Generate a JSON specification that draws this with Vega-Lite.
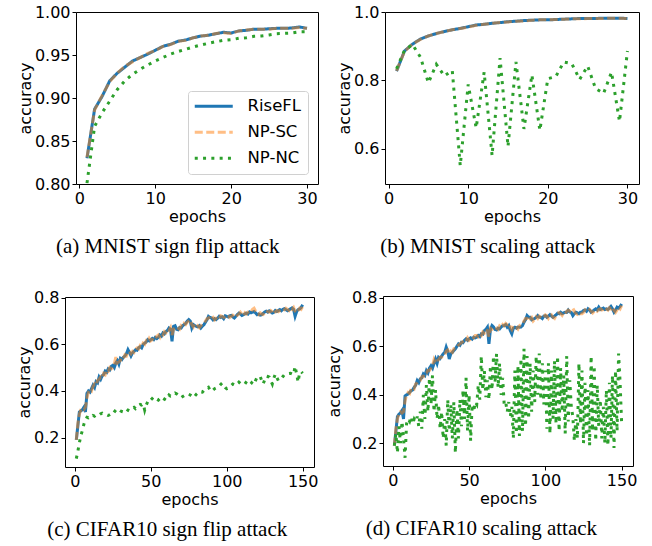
{
"$schema": "https://vega.github.io/schema/vega-lite/v6.json",
"padding": {"left": 9, "top": 3, "right": 0, "bottom": 0},
"background": "white",
"datasets": {
"a": [
{"e":1,"r":0.830,"p":0.831,"n":0.801},{"e":2,"r":0.887,"p":0.886,"n":0.867},{"e":3,"r":0.902,"p":0.903,"n":0.883},{"e":4,"r":0.920,"p":0.919,"n":0.8965},{"e":5,"r":0.929,"p":0.929,"n":0.910},{"e":6,"r":0.936,"p":0.937,"n":0.920},{"e":7,"r":0.943,"p":0.942,"n":0.9275},{"e":8,"r":0.947,"p":0.947,"n":0.9333},{"e":9,"r":0.951,"p":0.952,"n":0.9384},{"e":10,"r":0.9555,"p":0.955,"n":0.943},
{"e":11,"r":0.960,"p":0.960,"n":0.947},{"e":12,"r":0.9624,"p":0.962,"n":0.951},{"e":13,"r":0.966,"p":0.966,"n":0.954},{"e":14,"r":0.9674,"p":0.967,"n":0.9566},{"e":15,"r":0.970,"p":0.970,"n":0.9593},{"e":16,"r":0.972,"p":0.972,"n":0.9616},{"e":17,"r":0.973,"p":0.973,"n":0.9636},{"e":18,"r":0.9748,"p":0.975,"n":0.9655},{"e":19,"r":0.9764,"p":0.976,"n":0.967},{"e":20,"r":0.9756,"p":0.975,"n":0.9678},
{"e":21,"r":0.978,"p":0.978,"n":0.9694},{"e":22,"r":0.9787,"p":0.979,"n":0.970},{"e":23,"r":0.980,"p":0.980,"n":0.9717},{"e":24,"r":0.9798,"p":0.980,"n":0.9721},{"e":25,"r":0.9805,"p":0.980,"n":0.9733},{"e":26,"r":0.981,"p":0.981,"n":0.9748},{"e":27,"r":0.981,"p":0.981,"n":0.9752},{"e":28,"r":0.9814,"p":0.981,"n":0.9756},{"e":29,"r":0.9826,"p":0.982,"n":0.977},{"e":30,"r":0.981,"p":0.981,"n":0.977}
],
"b": [
{"e":1,"r":0.827,"p":0.828,"n":0.834},{"e":2,"r":0.886,"p":0.885,"n":0.888},{"e":3,"r":0.906,"p":0.906,"n":0.905},{"e":4,"r":0.921,"p":0.920,"n":0.868},{"e":5,"r":0.930,"p":0.930,"n":0.793},{"e":6,"r":0.937,"p":0.937,"n":0.847},{"e":7,"r":0.943,"p":0.943,"n":0.813},{"e":8,"r":0.948,"p":0.948,"n":0.829},{"e":9,"r":0.952,"p":0.952,"n":0.551},{"e":10,"r":0.957,"p":0.956,"n":0.788},
{"e":11,"r":0.962,"p":0.961,"n":0.661},{"e":12,"r":0.964,"p":0.964,"n":0.824},{"e":13,"r":0.967,"p":0.967,"n":0.580},{"e":14,"r":0.969,"p":0.969,"n":0.865},{"e":15,"r":0.9716,"p":0.971,"n":0.607},{"e":16,"r":0.973,"p":0.973,"n":0.854},{"e":17,"r":0.975,"p":0.974,"n":0.658},{"e":18,"r":0.976,"p":0.976,"n":0.816},{"e":19,"r":0.977,"p":0.977,"n":0.654},{"e":20,"r":0.977,"p":0.977,"n":0.805},
{"e":21,"r":0.978,"p":0.978,"n":0.811},{"e":22,"r":0.979,"p":0.979,"n":0.854},{"e":23,"r":0.980,"p":0.980,"n":0.849},{"e":24,"r":0.981,"p":0.980,"n":0.803},{"e":25,"r":0.981,"p":0.981,"n":0.842},{"e":26,"r":0.981,"p":0.981,"n":0.776},{"e":27,"r":0.982,"p":0.981,"n":0.762},{"e":28,"r":0.982,"p":0.982,"n":0.824},{"e":29,"r":0.982,"p":0.982,"n":0.680},{"e":30,"r":0.981,"p":0.981,"n":0.886}
],
"c": [
{"e":1,"r":0.19,"p":0.19,"n":0.11},{"e":2,"r":0.25,"p":0.26,"n":0.141},{"e":3,"r":0.31,"p":0.30,"n":0.177},{"e":4,"r":0.315,"p":0.32,"n":0.21},{"e":5,"r":0.32,"p":0.325,"n":0.23},{"e":6,"r":0.33,"p":0.32,"n":0.258},{"e":7,"r":0.31,"p":0.33,"n":0.275},{"e":8,"r":0.39,"p":0.37,"n":0.287},{"e":9,"r":0.40,"p":0.395,"n":0.285},{"e":10,"r":0.395,"p":0.405,"n":0.29},
{"e":11,"r":0.41,"p":0.40,"n":0.288},{"e":12,"r":0.425,"p":0.42,"n":0.295},{"e":13,"r":0.415,"p":0.43,"n":0.292},{"e":14,"r":0.44,"p":0.425,"n":0.298},{"e":15,"r":0.435,"p":0.445,"n":0.30},{"e":16,"r":0.46,"p":0.45,"n":0.297},{"e":17,"r":0.45,"p":0.46,"n":0.302},{"e":18,"r":0.465,"p":0.455,"n":0.305},{"e":19,"r":0.47,"p":0.475,"n":0.30},{"e":20,"r":0.485,"p":0.47,"n":0.30},
{"e":21,"r":0.48,"p":0.49,"n":0.298},{"e":22,"r":0.495,"p":0.485,"n":0.295},{"e":23,"r":0.49,"p":0.50,"n":0.298},{"e":24,"r":0.505,"p":0.495,"n":0.302},{"e":25,"r":0.51,"p":0.50,"n":0.30},{"e":26,"r":0.50,"p":0.515,"n":0.31},{"e":27,"r":0.52,"p":0.545,"n":0.318},{"e":28,"r":0.53,"p":0.52,"n":0.324},{"e":29,"r":0.515,"p":0.525,"n":0.32},{"e":30,"r":0.54,"p":0.53,"n":0.315},
{"e":31,"r":0.535,"p":0.545,"n":0.312},{"e":32,"r":0.545,"p":0.54,"n":0.31},{"e":33,"r":0.55,"p":0.555,"n":0.305},{"e":34,"r":0.56,"p":0.55,"n":0.31},{"e":35,"r":0.577,"p":0.565,"n":0.318},{"e":36,"r":0.565,"p":0.57,"n":0.315},{"e":37,"r":0.55,"p":0.56,"n":0.322},{"e":38,"r":0.563,"p":0.57,"n":0.327},{"e":39,"r":0.57,"p":0.565,"n":0.33},{"e":40,"r":0.577,"p":0.58,"n":0.324},
{"e":41,"r":0.575,"p":0.585,"n":0.33},{"e":42,"r":0.585,"p":0.58,"n":0.338},{"e":43,"r":0.59,"p":0.595,"n":0.342},{"e":44,"r":0.585,"p":0.59,"n":0.34},{"e":45,"r":0.60,"p":0.605,"n":0.345},{"e":46,"r":0.605,"p":0.60,"n":0.318},{"e":47,"r":0.61,"p":0.615,"n":0.34},{"e":48,"r":0.62,"p":0.61,"n":0.354},{"e":49,"r":0.615,"p":0.625,"n":0.35},{"e":50,"r":0.62,"p":0.615,"n":0.361},
{"e":51,"r":0.625,"p":0.62,"n":0.368},{"e":52,"r":0.62,"p":0.63,"n":0.375},{"e":53,"r":0.63,"p":0.625,"n":0.37},{"e":54,"r":0.625,"p":0.635,"n":0.365},{"e":55,"r":0.63,"p":0.64,"n":0.361},{"e":56,"r":0.64,"p":0.63,"n":0.368},{"e":57,"r":0.635,"p":0.645,"n":0.375},{"e":58,"r":0.649,"p":0.64,"n":0.37},{"e":59,"r":0.645,"p":0.655,"n":0.365},{"e":60,"r":0.655,"p":0.65,"n":0.361},
{"e":61,"r":0.66,"p":0.665,"n":0.372},{"e":62,"r":0.67,"p":0.66,"n":0.383},{"e":63,"r":0.665,"p":0.672,"n":0.378},{"e":64,"r":0.613,"p":0.64,"n":0.38},{"e":65,"r":0.677,"p":0.665,"n":0.385},{"e":66,"r":0.68,"p":0.67,"n":0.391},{"e":67,"r":0.665,"p":0.675,"n":0.388},{"e":68,"r":0.663,"p":0.67,"n":0.383},{"e":69,"r":0.672,"p":0.665,"n":0.377},{"e":70,"r":0.67,"p":0.68,"n":0.371},
{"e":71,"r":0.68,"p":0.675,"n":0.376},{"e":72,"r":0.685,"p":0.69,"n":0.38},{"e":73,"r":0.69,"p":0.685,"n":0.385},{"e":74,"r":0.70,"p":0.695,"n":0.383},{"e":75,"r":0.706,"p":0.70,"n":0.386},{"e":76,"r":0.70,"p":0.705,"n":0.383},{"e":77,"r":0.67,"p":0.685,"n":0.378},{"e":78,"r":0.685,"p":0.675,"n":0.371},{"e":79,"r":0.68,"p":0.69,"n":0.378},{"e":80,"r":0.677,"p":0.685,"n":0.386},
{"e":81,"r":0.675,"p":0.68,"n":0.392},{"e":82,"r":0.68,"p":0.672,"n":0.398},{"e":83,"r":0.67,"p":0.68,"n":0.396},{"e":84,"r":0.678,"p":0.688,"n":0.395},{"e":85,"r":0.684,"p":0.69,"n":0.402},{"e":86,"r":0.695,"p":0.70,"n":0.409},{"e":87,"r":0.705,"p":0.71,"n":0.412},{"e":88,"r":0.72,"p":0.712,"n":0.416},{"e":89,"r":0.715,"p":0.72,"n":0.405},{"e":90,"r":0.713,"p":0.71,"n":0.398},
{"e":91,"r":0.705,"p":0.715,"n":0.404},{"e":92,"r":0.71,"p":0.705,"n":0.41},{"e":93,"r":0.706,"p":0.712,"n":0.413},{"e":94,"r":0.712,"p":0.718,"n":0.418},{"e":95,"r":0.72,"p":0.71,"n":0.42},{"e":96,"r":0.715,"p":0.722,"n":0.428},{"e":97,"r":0.718,"p":0.72,"n":0.434},{"e":98,"r":0.71,"p":0.715,"n":0.425},{"e":99,"r":0.722,"p":0.718,"n":0.415},{"e":100,"r":0.72,"p":0.725,"n":0.41},
{"e":101,"r":0.717,"p":0.722,"n":0.413},{"e":102,"r":0.722,"p":0.715,"n":0.416},{"e":103,"r":0.724,"p":0.72,"n":0.424},{"e":104,"r":0.718,"p":0.725,"n":0.43},{"e":105,"r":0.713,"p":0.72,"n":0.427},{"e":106,"r":0.72,"p":0.715,"n":0.424},{"e":107,"r":0.728,"p":0.725,"n":0.431},{"e":108,"r":0.734,"p":0.73,"n":0.438},{"e":109,"r":0.73,"p":0.738,"n":0.432},{"e":110,"r":0.724,"p":0.73,"n":0.427},
{"e":111,"r":0.727,"p":0.722,"n":0.428},{"e":112,"r":0.731,"p":0.735,"n":0.43},{"e":113,"r":0.734,"p":0.73,"n":0.44},{"e":114,"r":0.73,"p":0.738,"n":0.448},{"e":115,"r":0.739,"p":0.745,"n":0.443},{"e":116,"r":0.735,"p":0.74,"n":0.438},{"e":117,"r":0.738,"p":0.75,"n":0.432},{"e":118,"r":0.741,"p":0.755,"n":0.427},{"e":119,"r":0.735,"p":0.742,"n":0.445},{"e":120,"r":0.727,"p":0.735,"n":0.459},
{"e":121,"r":0.73,"p":0.728,"n":0.462},{"e":122,"r":0.725,"p":0.735,"n":0.463},{"e":123,"r":0.727,"p":0.73,"n":0.445},{"e":124,"r":0.733,"p":0.728,"n":0.43},{"e":125,"r":0.739,"p":0.735,"n":0.448},{"e":126,"r":0.742,"p":0.745,"n":0.464},{"e":127,"r":0.738,"p":0.74,"n":0.462},{"e":128,"r":0.744,"p":0.738,"n":0.459},{"e":129,"r":0.74,"p":0.745,"n":0.444},{"e":130,"r":0.734,"p":0.74,"n":0.43},
{"e":131,"r":0.737,"p":0.73,"n":0.455},{"e":132,"r":0.745,"p":0.74,"n":0.473},{"e":133,"r":0.741,"p":0.745,"n":0.458},{"e":134,"r":0.745,"p":0.74,"n":0.444},{"e":135,"r":0.749,"p":0.745,"n":0.448},{"e":136,"r":0.744,"p":0.75,"n":0.453},{"e":137,"r":0.75,"p":0.745,"n":0.462},{"e":138,"r":0.753,"p":0.748,"n":0.47},{"e":139,"r":0.748,"p":0.755,"n":0.472},{"e":140,"r":0.744,"p":0.75,"n":0.473},
{"e":141,"r":0.748,"p":0.745,"n":0.475},{"e":142,"r":0.752,"p":0.755,"n":0.476},{"e":143,"r":0.756,"p":0.75,"n":0.473},{"e":144,"r":0.75,"p":0.758,"n":0.47},{"e":145,"r":0.72,"p":0.742,"n":0.506},{"e":146,"r":0.74,"p":0.735,"n":0.473},{"e":147,"r":0.749,"p":0.745,"n":0.438},{"e":148,"r":0.752,"p":0.755,"n":0.48},{"e":149,"r":0.758,"p":0.75,"n":0.483},{"e":150,"r":0.77,"p":0.762,"n":0.476}
],
"d": [
{"e":1,"r":0.19,"p":0.19,"n":0.19},{"e":2,"r":0.25,"p":0.26,"n":0.24},{"e":3,"r":0.31,"p":0.30,"n":0.16},{"e":4,"r":0.32,"p":0.32,"n":0.27},{"e":5,"r":0.325,"p":0.33,"n":0.20},{"e":6,"r":0.335,"p":0.325,"n":0.29},{"e":7,"r":0.30,"p":0.33,"n":0.22},{"e":8,"r":0.395,"p":0.375,"n":0.14},{"e":9,"r":0.40,"p":0.40,"n":0.28},{"e":10,"r":0.403,"p":0.41,"n":0.30},
{"e":11,"r":0.41,"p":0.405,"n":0.29},{"e":12,"r":0.417,"p":0.425,"n":0.31},{"e":13,"r":0.42,"p":0.43,"n":0.28},{"e":14,"r":0.431,"p":0.425,"n":0.30},{"e":15,"r":0.44,"p":0.445,"n":0.29},{"e":16,"r":0.459,"p":0.45,"n":0.31},{"e":17,"r":0.45,"p":0.46,"n":0.27},{"e":18,"r":0.466,"p":0.46,"n":0.33},{"e":19,"r":0.47,"p":0.475,"n":0.26},{"e":20,"r":0.486,"p":0.475,"n":0.40},
{"e":21,"r":0.48,"p":0.49,"n":0.30},{"e":22,"r":0.50,"p":0.49,"n":0.44},{"e":23,"r":0.49,"p":0.50,"n":0.33},{"e":24,"r":0.51,"p":0.50,"n":0.47},{"e":25,"r":0.52,"p":0.51,"n":0.36},{"e":26,"r":0.51,"p":0.52,"n":0.48},{"e":27,"r":0.53,"p":0.545,"n":0.33},{"e":28,"r":0.548,"p":0.53,"n":0.42},{"e":29,"r":0.53,"p":0.54,"n":0.30},{"e":30,"r":0.555,"p":0.545,"n":0.36},
{"e":31,"r":0.55,"p":0.555,"n":0.26},{"e":32,"r":0.56,"p":0.555,"n":0.33},{"e":33,"r":0.569,"p":0.565,"n":0.22},{"e":34,"r":0.575,"p":0.565,"n":0.30},{"e":35,"r":0.597,"p":0.58,"n":0.19},{"e":36,"r":0.58,"p":0.585,"n":0.38},{"e":37,"r":0.548,"p":0.57,"n":0.25},{"e":38,"r":0.57,"p":0.58,"n":0.36},{"e":39,"r":0.575,"p":0.575,"n":0.22},{"e":40,"r":0.583,"p":0.59,"n":0.37},
{"e":41,"r":0.59,"p":0.595,"n":0.16},{"e":42,"r":0.60,"p":0.595,"n":0.34},{"e":43,"r":0.61,"p":0.605,"n":0.22},{"e":44,"r":0.605,"p":0.61,"n":0.38},{"e":45,"r":0.617,"p":0.615,"n":0.27},{"e":46,"r":0.615,"p":0.62,"n":0.42},{"e":47,"r":0.625,"p":0.625,"n":0.30},{"e":48,"r":0.631,"p":0.62,"n":0.47},{"e":49,"r":0.625,"p":0.635,"n":0.25},{"e":50,"r":0.631,"p":0.625,"n":0.40},
{"e":51,"r":0.635,"p":0.63,"n":0.21},{"e":52,"r":0.63,"p":0.64,"n":0.36},{"e":53,"r":0.638,"p":0.635,"n":0.33},{"e":54,"r":0.635,"p":0.645,"n":0.37},{"e":55,"r":0.638,"p":0.645,"n":0.36},{"e":56,"r":0.645,"p":0.64,"n":0.44},{"e":57,"r":0.64,"p":0.65,"n":0.38},{"e":58,"r":0.652,"p":0.645,"n":0.56},{"e":59,"r":0.65,"p":0.66,"n":0.42},{"e":60,"r":0.665,"p":0.655,"n":0.50},
{"e":61,"r":0.67,"p":0.67,"n":0.39},{"e":62,"r":0.679,"p":0.665,"n":0.46},{"e":63,"r":0.61,"p":0.64,"n":0.38},{"e":64,"r":0.67,"p":0.675,"n":0.52},{"e":65,"r":0.686,"p":0.67,"n":0.42},{"e":66,"r":0.68,"p":0.675,"n":0.56},{"e":67,"r":0.67,"p":0.68,"n":0.45},{"e":68,"r":0.668,"p":0.675,"n":0.57},{"e":69,"r":0.675,"p":0.67,"n":0.43},{"e":70,"r":0.672,"p":0.685,"n":0.53},
{"e":71,"r":0.68,"p":0.68,"n":0.40},{"e":72,"r":0.685,"p":0.69,"n":0.47},{"e":73,"r":0.686,"p":0.685,"n":0.36},{"e":74,"r":0.69,"p":0.695,"n":0.37},{"e":75,"r":0.679,"p":0.69,"n":0.33},{"e":76,"r":0.686,"p":0.695,"n":0.37},{"e":77,"r":0.665,"p":0.68,"n":0.31},{"e":78,"r":0.652,"p":0.67,"n":0.35},{"e":79,"r":0.675,"p":0.685,"n":0.22},{"e":80,"r":0.679,"p":0.685,"n":0.50},
{"e":81,"r":0.675,"p":0.68,"n":0.24},{"e":82,"r":0.68,"p":0.672,"n":0.52},{"e":83,"r":0.679,"p":0.685,"n":0.23},{"e":84,"r":0.68,"p":0.69,"n":0.55},{"e":85,"r":0.686,"p":0.69,"n":0.25},{"e":86,"r":0.70,"p":0.705,"n":0.59},{"e":87,"r":0.71,"p":0.715,"n":0.27},{"e":88,"r":0.727,"p":0.715,"n":0.56},{"e":89,"r":0.72,"p":0.725,"n":0.30},{"e":90,"r":0.72,"p":0.715,"n":0.53},
{"e":91,"r":0.71,"p":0.72,"n":0.33},{"e":92,"r":0.713,"p":0.705,"n":0.50},{"e":93,"r":0.715,"p":0.712,"n":0.37},{"e":94,"r":0.72,"p":0.722,"n":0.56},{"e":95,"r":0.727,"p":0.715,"n":0.40},{"e":96,"r":0.72,"p":0.725,"n":0.57},{"e":97,"r":0.72,"p":0.72,"n":0.38},{"e":98,"r":0.715,"p":0.715,"n":0.53},{"e":99,"r":0.725,"p":0.72,"n":0.36},{"e":100,"r":0.727,"p":0.73,"n":0.50},
{"e":101,"r":0.72,"p":0.725,"n":0.26},{"e":102,"r":0.725,"p":0.715,"n":0.53},{"e":103,"r":0.731,"p":0.725,"n":0.24},{"e":104,"r":0.725,"p":0.73,"n":0.50},{"e":105,"r":0.72,"p":0.72,"n":0.30},{"e":106,"r":0.725,"p":0.715,"n":0.54},{"e":107,"r":0.73,"p":0.728,"n":0.28},{"e":108,"r":0.737,"p":0.735,"n":0.56},{"e":109,"r":0.735,"p":0.74,"n":0.25},{"e":110,"r":0.741,"p":0.735,"n":0.51},
{"e":111,"r":0.735,"p":0.728,"n":0.33},{"e":112,"r":0.738,"p":0.74,"n":0.48},{"e":113,"r":0.741,"p":0.735,"n":0.24},{"e":114,"r":0.74,"p":0.745,"n":0.56},{"e":115,"r":0.75,"p":0.75,"n":0.29},{"e":116,"r":0.742,"p":0.745,"n":0.46},{"e":117,"r":0.74,"p":0.755,"n":0.35},{"e":118,"r":0.727,"p":0.758,"n":0.31},{"e":119,"r":0.735,"p":0.745,"n":0.21},{"e":120,"r":0.741,"p":0.735,"n":0.30},
{"e":121,"r":0.738,"p":0.732,"n":0.22},{"e":122,"r":0.735,"p":0.74,"n":0.53},{"e":123,"r":0.741,"p":0.735,"n":0.28},{"e":124,"r":0.742,"p":0.735,"n":0.50},{"e":125,"r":0.748,"p":0.74,"n":0.20},{"e":126,"r":0.75,"p":0.75,"n":0.45},{"e":127,"r":0.745,"p":0.745,"n":0.23},{"e":128,"r":0.755,"p":0.745,"n":0.42},{"e":129,"r":0.75,"p":0.752,"n":0.19},{"e":130,"r":0.741,"p":0.745,"n":0.56},
{"e":131,"r":0.745,"p":0.738,"n":0.25},{"e":132,"r":0.75,"p":0.745,"n":0.52},{"e":133,"r":0.755,"p":0.75,"n":0.21},{"e":134,"r":0.75,"p":0.745,"n":0.44},{"e":135,"r":0.762,"p":0.752,"n":0.27},{"e":136,"r":0.752,"p":0.755,"n":0.38},{"e":137,"r":0.755,"p":0.75,"n":0.22},{"e":138,"r":0.758,"p":0.752,"n":0.35},{"e":139,"r":0.752,"p":0.76,"n":0.20},{"e":140,"r":0.755,"p":0.755,"n":0.42},
{"e":141,"r":0.752,"p":0.75,"n":0.19},{"e":142,"r":0.758,"p":0.76,"n":0.45},{"e":143,"r":0.765,"p":0.755,"n":0.22},{"e":144,"r":0.755,"p":0.762,"n":0.48},{"e":145,"r":0.741,"p":0.748,"n":0.18},{"e":146,"r":0.75,"p":0.74,"n":0.50},{"e":147,"r":0.762,"p":0.75,"n":0.25},{"e":148,"r":0.758,"p":0.762,"n":0.57},{"e":149,"r":0.765,"p":0.755,"n":0.45},{"e":150,"r":0.775,"p":0.768,"n":0.28}
]
},
"columns": 3,
"align": "none",
"bounds": "full",
"spacing": {"row": 31, "column": 6},
"resolve": {"scale": {"color": "independent", "strokeDash": "independent", "opacity": "independent"}, "legend": {"color": "independent", "strokeDash": "independent", "opacity": "independent"}},
"concat": [
{"width": 1, "height": 1, "data": {"values": []}, "mark": "point", "view": {"stroke": null}},
{
"width": 242, "height": 172,
"data": {"name": "a"},
"transform": [{"fold": ["r", "p", "n"], "as": ["k", "v"]}],
"title": {"text": "(a) MNIST sign flip attack", "orient": "bottom", "anchor": "middle", "frame": "bounds"},
"mark": {"type": "line"},
"encoding": {
"x": {"field": "e", "type": "quantitative", "scale": {"domain": [-0.45, 31.45], "nice": false, "zero": false}, "axis": {"values": [0, 10, 20, 30], "title": "epochs"}},
"y": {"field": "v", "type": "quantitative", "scale": {"domain": [0.8, 1.0], "nice": false, "zero": false}, "axis": {"values": [0.8, 0.85, 0.9, 0.95, 1.0], "format": ".2f", "title": "accuracy"}},
"color": {"field": "k", "type": "nominal", "scale": {"domain": ["r", "p", "n"], "range": ["#1f77b4", "#ff7f0e", "#2ca02c"]}, "legend": {"title": null, "orient": "bottom-right", "labelExpr": "datum.label == 'r' ? 'RiseFL' : datum.label == 'p' ? 'NP-SC' : 'NP-NC'"}},
"strokeDash": {"field": "k", "type": "nominal", "scale": {"domain": ["r", "p", "n"], "range": [[1, 0], [8, 3.5], [3, 5.3]]}, "legend": {"title": null, "orient": "bottom-right", "labelExpr": "datum.label == 'r' ? 'RiseFL' : datum.label == 'p' ? 'NP-SC' : 'NP-NC'"}},
"opacity": {"field": "k", "type": "nominal", "scale": {"type": "ordinal", "domain": ["r", "p", "n"], "range": [1, 0.5, 1]}, "legend": {"title": null, "orient": "bottom-right", "labelExpr": "datum.label == 'r' ? 'RiseFL' : datum.label == 'p' ? 'NP-SC' : 'NP-NC'"}}
}
},
{
"width": 254, "height": 172,
"data": {"name": "b"},
"transform": [{"fold": ["r", "p", "n"], "as": ["k", "v"]}],
"title": {"text": "(b) MNIST scaling attack", "orient": "bottom", "anchor": "middle", "frame": "bounds"},
"mark": {"type": "line"},
"encoding": {
"x": {"field": "e", "type": "quantitative", "scale": {"domain": [-0.45, 31.45], "nice": false, "zero": false}, "axis": {"values": [0, 10, 20, 30], "title": "epochs"}},
"y": {"field": "v", "type": "quantitative", "scale": {"domain": [0.497, 1.0], "nice": false, "zero": false}, "axis": {"values": [0.6, 0.8, 1.0], "format": ".1f", "title": "accuracy"}},
"color": {"field": "k", "type": "nominal", "scale": {"domain": ["r", "p", "n"], "range": ["#1f77b4", "#ff7f0e", "#2ca02c"]}, "legend": null},
"strokeDash": {"field": "k", "type": "nominal", "scale": {"domain": ["r", "p", "n"], "range": [[1, 0], [8, 3.5], [3, 5.3]]}, "legend": null},
"opacity": {"field": "k", "type": "nominal", "scale": {"type": "ordinal", "domain": ["r", "p", "n"], "range": [1, 0.5, 1]}, "legend": null}
}
},
{"width": 1, "height": 1, "data": {"values": []}, "mark": "point", "view": {"stroke": null}},
{
"width": 249, "height": 170,
"data": {"name": "c"},
"transform": [{"fold": ["r", "p", "n"], "as": ["k", "v"]}],
"title": {"text": "(c) CIFAR10 sign flip attack", "orient": "bottom", "anchor": "middle", "frame": "bounds"},
"mark": {"type": "line"},
"encoding": {
"x": {"field": "e", "type": "quantitative", "scale": {"domain": [-6.45, 157.45], "nice": false, "zero": false}, "axis": {"values": [0, 50, 100, 150], "title": "epochs"}},
"y": {"field": "v", "type": "quantitative", "scale": {"domain": [0.074, 0.803], "nice": false, "zero": false}, "axis": {"values": [0.2, 0.4, 0.6, 0.8], "format": ".1f", "title": "accuracy"}},
"color": {"field": "k", "type": "nominal", "scale": {"domain": ["r", "p", "n"], "range": ["#1f77b4", "#ff7f0e", "#2ca02c"]}, "legend": null},
"strokeDash": {"field": "k", "type": "nominal", "scale": {"domain": ["r", "p", "n"], "range": [[1, 0], [8, 3.5], [3, 5.3]]}, "legend": null},
"opacity": {"field": "k", "type": "nominal", "scale": {"type": "ordinal", "domain": ["r", "p", "n"], "range": [1, 0.5, 1]}, "legend": null}
}
},
{
"width": 250, "height": 170,
"data": {"name": "d"},
"transform": [{"fold": ["r", "p", "n"], "as": ["k", "v"]}],
"title": {"text": "(d) CIFAR10 scaling attack", "orient": "bottom", "anchor": "middle", "frame": "bounds"},
"mark": {"type": "line"},
"encoding": {
"x": {"field": "e", "type": "quantitative", "scale": {"domain": [-6.45, 157.45], "nice": false, "zero": false}, "axis": {"values": [0, 50, 100, 150], "title": "epochs"}},
"y": {"field": "v", "type": "quantitative", "scale": {"domain": [0.106, 0.808], "nice": false, "zero": false}, "axis": {"values": [0.2, 0.4, 0.6, 0.8], "format": ".1f", "title": "accuracy", "minExtent": 40}},
"color": {"field": "k", "type": "nominal", "scale": {"domain": ["r", "p", "n"], "range": ["#1f77b4", "#ff7f0e", "#2ca02c"]}, "legend": null},
"strokeDash": {"field": "k", "type": "nominal", "scale": {"domain": ["r", "p", "n"], "range": [[1, 0], [8, 3.5], [3, 5.3]]}, "legend": null},
"opacity": {"field": "k", "type": "nominal", "scale": {"type": "ordinal", "domain": ["r", "p", "n"], "range": [1, 0.5, 1]}, "legend": null}
}
}
],
"config": {
"view": {"stroke": "#000", "strokeWidth": 1},
"axis": {"grid": false, "domain": false, "tickColor": "#000", "tickSize": 4, "tickWidth": 1, "labelFont": "DejaVu Sans", "labelFontSize": 16, "labelColor": "#000", "labelPadding": 2, "titleFont": "DejaVu Sans", "titleFontSize": 16, "titleFontWeight": "normal", "titleColor": "#000", "labelOverlap": false, "labelFlush": false},
"axisY": {"titlePadding": 1},
"axisX": {"titlePadding": 2},
"title": {"font": "Liberation Serif", "fontSize": 21, "fontWeight": "normal", "color": "#000", "offset": 12},
"legend": {"offset": 10, "symbolType": "M-1.7,0L5.9,0", "symbolSize": 100, "symbolStrokeWidth": 3, "labelFont": "DejaVu Sans", "labelFontSize": 16.5, "labelColor": "#000", "strokeColor": "#d0d0d0", "fillColor": "rgba(255,255,255,0.8)", "padding": 7, "cornerRadius": 3, "rowPadding": 9, "labelOffset": 36},
"line": {"strokeWidth": 3, "strokeCap": "butt", "clip": true}
}
}
